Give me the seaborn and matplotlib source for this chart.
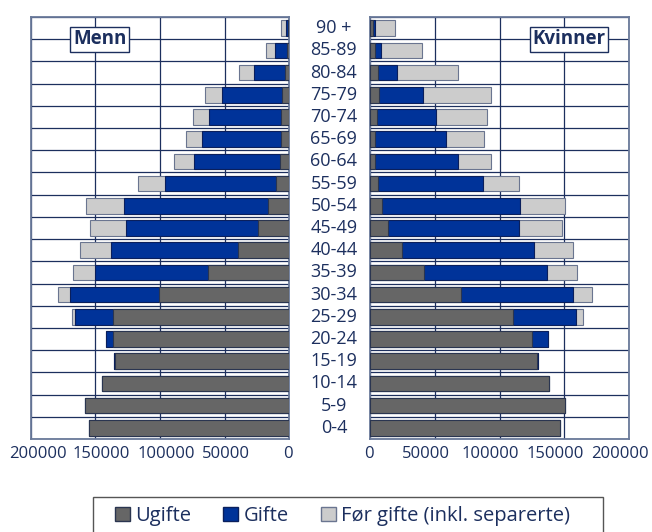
import numpy as np
import pandas as pd
import matplotlib.pyplot as plt
import seaborn as sns
from matplotlib.patches import Patch, Rectangle
from matplotlib.transforms import blended_transform_factory, ScaledTranslation

# aldersgrupper, øverst først
ages = ["90 +", "85-89", "80-84", "75-79", "70-74", "65-69", "60-64", "55-59",
        "50-54", "45-49", "40-44", "35-39", "30-34", "25-29", "20-24", "15-19",
        "10-14", "5-9", "0-4"]

# Menn
menn_ugifte = [500, 1300, 2800, 5400, 6200, 6400, 6700, 9800, 16000, 23700,
               39700, 62600, 100800, 136800, 136300, 135000, 145300, 158500, 155400]
menn_gifte = [2000, 9500, 24700, 46400, 55900, 60800, 67000, 86300, 111600, 102800,
              98400, 87400, 69300, 29100, 5400, 800, 0, 0, 0]
menn_for = [3400, 7000, 11100, 13700, 12600, 12900, 15200, 20900, 29600, 27800,
            24200, 17500, 9300, 2600, 300, 0, 0, 0, 0]

# Kvinner
kv_ugifte = [2500, 4100, 5900, 7000, 5200, 4100, 4100, 6200, 9300, 13900,
             24700, 41700, 70400, 110300, 125200, 129100, 138400, 150200, 147100]
kv_gifte = [1000, 4600, 15200, 33800, 46100, 54900, 63700, 80700, 106700, 101500,
            101800, 95100, 86100, 48400, 12100, 1000, 0, 0, 0]
kv_for = [15500, 31400, 46600, 52600, 39200, 29400, 25500, 28300, 34800, 33000,
          29900, 23200, 15200, 5400, 300, 0, 0, 0, 0]

farger = {"Ugifte": "#666666", "Gifte": "#003399", "Før": "#cccccc"}
kanter = {"Ugifte": "#2a3550", "Gifte": "#0a1f5c", "Før": "#6a7590"}
navy = "#1c2f5e"

plt.rcParams['font.family'] = ['Open Sans', 'DejaVu Sans']

fig = plt.figure(figsize=(6.52, 5.32), dpi=100)
axL = fig.add_axes([31/652, 1-439/532, 258/652, 422/532])
axR = fig.add_axes([370/652, 1-439/532, 259/652, 422/532])


def tegn(ax, ugifte, gifte, forr):
    df = pd.DataFrame({"alder": ages, "u": ugifte, "g": gifte, "f": forr})
    df["ug"] = df["u"] + df["g"]
    df["tot"] = df["ug"] + df["f"]
    # stablede søyler: tegner totalen først, så de mindre oppå
    for col, key in [("tot", "Før"), ("ug", "Gifte"), ("u", "Ugifte")]:
        sns.barplot(data=df, x=col, y="alder", order=ages, orient="h", ax=ax,
                    color=farger[key], edgecolor=kanter[key], linewidth=0.8,
                    width=0.7, saturation=1, errorbar=None, zorder=3)
    ax.set_xlim(0, 200000)
    ax.set_xticks([0, 50000, 100000, 150000, 200000])
    ax.set_xticklabels(["0", "50000", "100000", "150000", "200000"],
                       fontsize=12, color=navy)
    ax.set_ylim(18.5, -0.5)
    ax.set_yticks(np.arange(-0.5, 19, 1))
    ax.set_yticklabels([])
    ax.tick_params(length=0, pad=5)
    ax.set_xlabel("")
    ax.set_ylabel("")
    ax.grid(True, axis="both", color="#1c2f5e", linewidth=0.9, zorder=0)
    ax.set_axisbelow(True)
    for s in ax.spines.values():
        s.set_color("#6a7a9a")
        s.set_linewidth(1.3)


tegn(axL, menn_ugifte, menn_gifte, menn_for)
tegn(axR, kv_ugifte, kv_gifte, kv_for)
axL.invert_xaxis()

# tallene på x-aksen er litt forskjøvet i originalen (piksler)
for ax, skift in [(axL, [-1.5, 1, 6, 6, 7]), (axR, [-1, -9, -9, -9, -9])]:
    for lab, dx in zip(ax.get_xticklabels(), skift):
        lab.set_transform(lab.get_transform() +
                          ScaledTranslation(dx/100, 0, fig.dpi_scale_trans))

# aldersetiketter i midten
tr = blended_transform_factory(axL.transAxes, axL.transData)
for i, a in enumerate(ages):
    axL.text(1.174, i, a, transform=tr, ha="center", va="center",
             fontsize=13, color=navy, clip_on=False)

boks = dict(boxstyle="square,pad=0.15", fc="white", ec="#1c2f5e", lw=1)
axL.text(0.267, 0.947, "Menn", transform=axL.transAxes, ha="center", va="center",
         fontsize=13.5, fontweight="bold", color=navy, bbox=boks, zorder=5)
axR.text(0.768, 0.947, "Kvinner", transform=axR.transAxes, ha="center", va="center",
         fontsize=13.5, fontweight="bold", color=navy, bbox=boks, zorder=5)

handles = [Patch(facecolor=farger["Ugifte"], edgecolor=kanter["Ugifte"]),
           Patch(facecolor=farger["Gifte"], edgecolor=kanter["Gifte"]),
           Patch(facecolor=farger["Før"], edgecolor=kanter["Før"])]
leg = fig.legend(handles, ["Ugifte", "Gifte", "Før gifte (inkl. separerte)"],
                 loc="upper left", bbox_to_anchor=(115/652, 1-506/532), ncol=3,
                 fontsize=14.5, frameon=False, handlelength=0.75,
                 handleheight=0.75, handletextpad=0.25, columnspacing=1.6,
                 borderpad=0, borderaxespad=0)
for t in leg.get_texts():
    t.set_color(navy)
# ramme rundt tegnforklaringen (går ut av bildet nederst)
fig.patches.append(Rectangle((93/652, -0.05), 510/652, 0.05 + 1-497/532,
                             transform=fig.transFigure, fill=False,
                             edgecolor="#555555", linewidth=1))

fig.savefig("out.png", dpi=100)
